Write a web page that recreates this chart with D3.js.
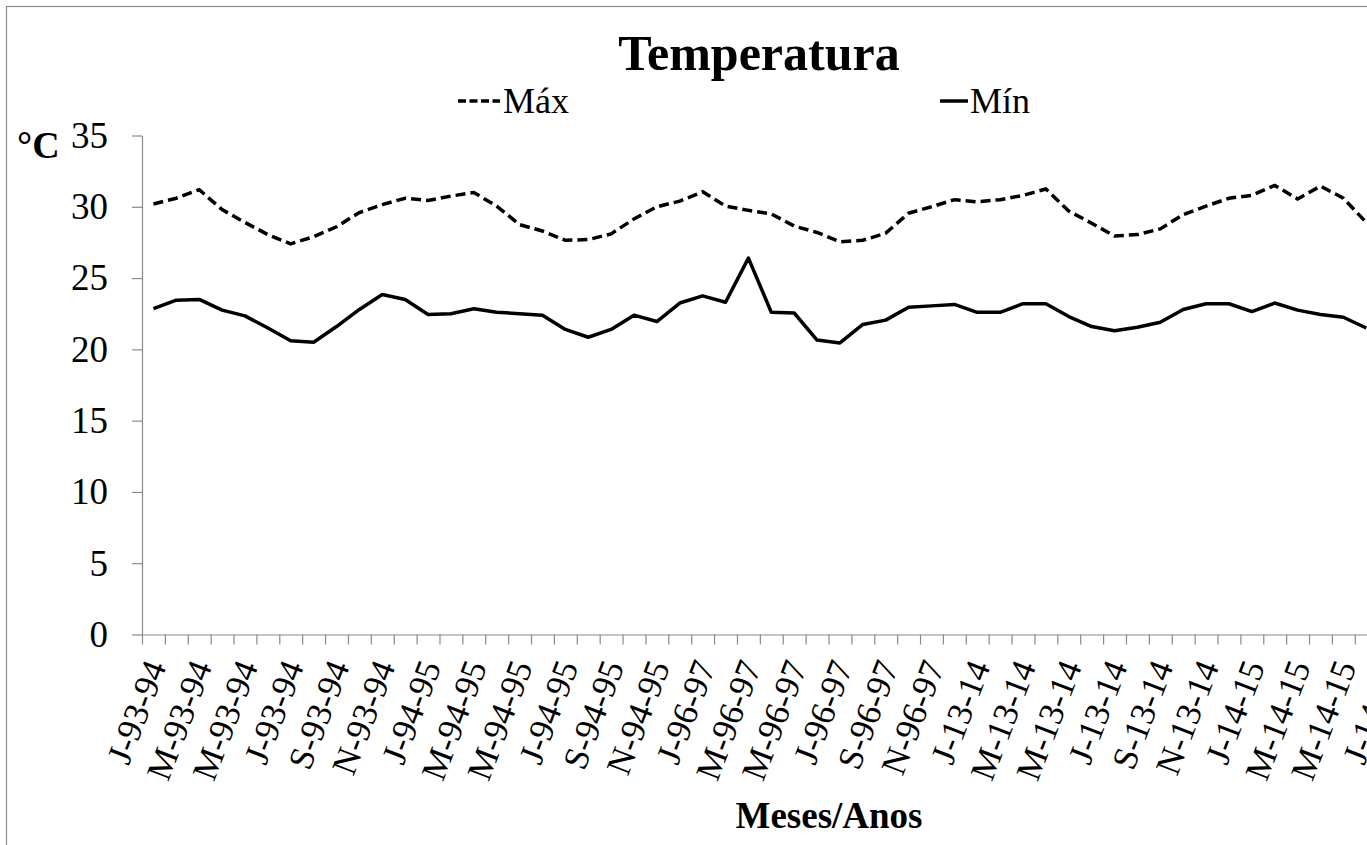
<!DOCTYPE html>
<html>
<head>
<meta charset="utf-8">
<script src="https://cdn.jsdelivr.net/npm/d3@7"></script>
<style>
  html, body { margin: 0; padding: 0; background: #fff; overflow: hidden; }
  svg { display: block; }
  text { font-family: "Liberation Serif", "Times New Roman", serif; fill: #000; }
</style>
</head>
<body>
<svg id="chart" width="1367" height="845"></svg>
<script>
// ---- data ----
const monthLetters = ["J","F","M","A","M","J","J","A","S","O","N","D"];
const seasons = ["93-94","94-95","96-97","13-14","14-15"];
const categories = seasons.flatMap(s => monthLetters.map(m => m + "-" + s));
const yTicks = [0, 5, 10, 15, 20, 25, 30, 35];
const maxVals = [30.2, 30.6, 31.2, 29.8, 28.9, 28.05, 27.4, 27.9, 28.6, 29.6, 30.15, 30.6,
  30.45, 30.75, 31.0, 30.05, 28.75, 28.3, 27.65, 27.7, 28.1, 29.15, 30.0, 30.4,
  31.05, 30.05, 29.75, 29.5, 28.65, 28.2, 27.55, 27.65, 28.15, 29.55, 30.0, 30.5,
  30.35, 30.5, 30.8, 31.25, 29.7, 28.85, 27.95, 28.05, 28.45, 29.45, 30.05, 30.6,
  30.8, 31.5, 30.55, 31.45, 30.6, 28.9];
const minVals = [22.85, 23.45, 23.5, 22.75, 22.35, 21.5, 20.6, 20.5, 21.6, 22.8, 23.85, 23.5,
  22.45, 22.5, 22.85, 22.6, 22.5, 22.4, 21.4, 20.85, 21.4, 22.4, 21.95, 23.25,
  23.75, 23.3, 26.4, 22.6, 22.55, 20.65, 20.45, 21.75, 22.05, 22.95, 23.05, 23.15,
  22.6, 22.6, 23.2, 23.2, 22.3, 21.6, 21.3, 21.55, 21.9, 22.8, 23.2, 23.2,
  22.65, 23.25, 22.75, 22.45, 22.25, 21.5];

// ---- layout ----
const svg = d3.select("#chart");
const plot = { left: 142, right: 1515, top: 135.5, bottom: 634.5 };
const axisColor = "#8a8a8a";

// outer chart border (extends past the viewport on the right)
svg.append("rect").attr("x", 6.5).attr("y", 6.5).attr("width", 1540).attr("height", 860)
  .attr("fill", "none").attr("stroke", axisColor).attr("stroke-width", 1.2);

const idx = d3.range(categories.length);
const x = d3.scaleBand().domain(idx).range([plot.left, plot.right]).padding(0);
const xEdge = d3.scaleLinear().domain([0, categories.length]).range([plot.left, plot.right]);
const y = d3.scaleLinear().domain([0, 35]).range([plot.bottom, plot.top]);

// y axis
const yAxis = svg.append("g").attr("transform", `translate(${plot.left},0)`)
  .call(d3.axisLeft(y).tickValues(yTicks).tickSize(10).tickPadding(24).tickSizeOuter(0));
yAxis.select(".domain").attr("stroke", axisColor).attr("stroke-width", 1.2);
yAxis.selectAll(".tick line").attr("stroke", axisColor).attr("stroke-width", 1.2);
yAxis.selectAll(".tick text").style("font-family", "Liberation Serif").style("font-size", "37px").attr("fill", "#000");

// x axis: tick marks between categories
const xAxis = svg.append("g").attr("transform", `translate(0,${plot.bottom})`)
  .call(d3.axisBottom(xEdge).tickValues(d3.range(categories.length + 1)).tickSize(10).tickFormat("").tickSizeOuter(0));
xAxis.select(".domain").attr("stroke", axisColor).attr("stroke-width", 1.2);
xAxis.selectAll(".tick line").attr("stroke", axisColor).attr("stroke-width", 1.2);

// x labels every second category
svg.append("g").selectAll("text")
  .data(idx.filter(i => i % 2 === 0))
  .join("text")
  .attr("transform", i => `translate(${x(i) + x.bandwidth() / 2 + 2},662) rotate(-69)`)
  .attr("text-anchor", "end")
  .attr("dy", "0.35em")
  .style("font-size", "35px")
  .text(i => categories[i]);

// lines
const line = d3.line().x((d, i) => x(i) + x.bandwidth() / 2).y(d => y(d));
svg.append("path").datum(maxVals).attr("d", line)
  .attr("fill", "none").attr("stroke", "#000").attr("stroke-width", 3.5)
  .attr("stroke-dasharray", "10,5");
svg.append("path").datum(minVals).attr("d", line)
  .attr("fill", "none").attr("stroke", "#000").attr("stroke-width", 3.5)
  .attr("stroke-linejoin", "round");

// title
svg.append("text").attr("x", 759).attr("y", 70).attr("text-anchor", "middle")
  .style("font-size", "50px").style("font-weight", "bold").text("Temperatura");

// legend
svg.append("line").attr("x1", 458).attr("x2", 500).attr("y1", 101).attr("y2", 101)
  .attr("stroke", "#000").attr("stroke-width", 3.5).attr("stroke-dasharray", "8,3.5");
svg.append("text").attr("x", 503).attr("y", 113).style("font-size", "36px").text("Máx");
svg.append("line").attr("x1", 940).attr("x2", 968).attr("y1", 101).attr("y2", 101)
  .attr("stroke", "#000").attr("stroke-width", 3.5);
svg.append("text").attr("x", 970).attr("y", 113).style("font-size", "36px").text("Mín");

// unit label
svg.append("text").attr("x", 17).attr("y", 158)
  .style("font-size", "38px").style("font-weight", "bold").text("°C");

// x axis title
svg.append("text").attr("x", 829).attr("y", 828).attr("text-anchor", "middle")
  .style("font-size", "37px").style("font-weight", "bold").text("Meses/Anos");
</script>
</body>
</html>
